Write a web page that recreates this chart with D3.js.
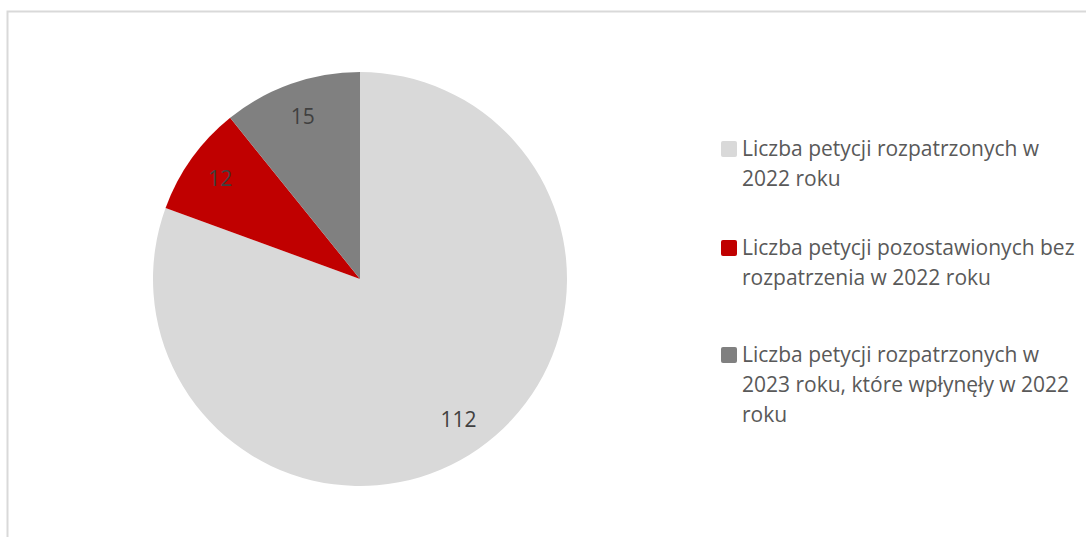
<!DOCTYPE html>
<html>
<head>
<meta charset="utf-8">
<script src="https://cdn.jsdelivr.net/npm/d3@7"></script>
<style>
  body { margin: 0; background: white; }
  text { font-family: "Open Sans", "Noto Sans", sans-serif; }
</style>
</head>
<body>
<svg id="chart" width="1086" height="537"></svg>
<script>
// data
const categories = [
  'Liczba petycji rozpatrzonych w 2022 roku',
  'Liczba petycji pozostawionych bez rozpatrzenia w 2022 roku',
  'Liczba petycji rozpatrzonych w 2023 roku, które wpłynęły w 2022 roku'
];
const values = [112, 12, 15];
const legendLines = [
  ['Liczba petycji rozpatrzonych w', '2022 roku'],
  ['Liczba petycji pozostawionych bez', 'rozpatrzenia w 2022 roku'],
  ['Liczba petycji rozpatrzonych w', '2023 roku, które wpłynęły w 2022', 'roku']
];
const colors = ['#d9d9d9', '#c00000', '#808080'];

const svg = d3.select('#chart');

// outer frame
svg.append('rect')
  .attr('x', 7.5).attr('y', 11.5)
  .attr('width', 1100).attr('height', 560)
  .attr('fill', 'white')
  .attr('stroke', '#d9d9d9')
  .attr('stroke-width', 2);

const cx = 360, cy = 279, radius = 207;

const color = d3.scaleOrdinal().domain(categories).range(colors);

const pie = d3.pie().sort(null).value(d => d.value);
const arc = d3.arc().innerRadius(0).outerRadius(radius);
const labelArc = d3.arc().innerRadius(radius * 0.83).outerRadius(radius * 0.83);

const data = categories.map((c, i) => ({ name: c, value: values[i] }));

const g = svg.append('g').attr('transform', `translate(${cx},${cy})`);

const slices = g.selectAll('.arc')
  .data(pie(data))
  .enter().append('g')
  .attr('class', 'arc');

slices.append('path')
  .attr('d', arc)
  .style('fill', d => color(d.data.name));

slices.append('text')
  .attr('transform', d => `translate(${labelArc.centroid(d)})`)
  .attr('text-anchor', 'middle')
  .attr('dy', '.35em')
  .style('font-size', '21px')
  .style('fill', '#404040')
  .text(d => d.data.value);

// legend
const legendY = [149, 248, 355];
const legend = svg.selectAll('.legend')
  .data(categories)
  .enter().append('g')
  .attr('class', 'legend')
  .attr('transform', (d, i) => `translate(721,${legendY[i]})`);

legend.append('rect')
  .attr('x', 0).attr('y', -8)
  .attr('width', 16).attr('height', 16)
  .attr('rx', 2)
  .style('fill', d => color(d));

legend.each(function (d, i) {
  const t = d3.select(this).append('text')
    .attr('x', 21)
    .style('font-size', '21px')
    .style('fill', '#595959');
  legendLines[i].forEach((line, j) => {
    t.append('tspan')
      .attr('x', 21)
      .attr('y', j * 30)
      .attr('dy', '.35em')
      .text(line);
  });
});
</script>
</body>
</html>
